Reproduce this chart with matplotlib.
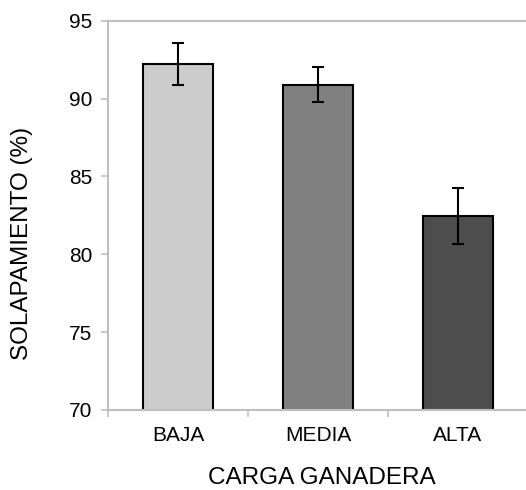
import matplotlib
matplotlib.use("Agg")
import matplotlib.pyplot as plt
import numpy as np

plt.rcParams['font.family'] = ['Liberation Sans', 'DejaVu Sans']

categorias = ['BAJA', 'MEDIA', 'ALTA']
solapamiento = [92.2, 90.9, 82.45]
error = [1.35, 1.15, 1.8]
colores = ['#cccccc', '#808080', '#4d4d4d']

fig = plt.figure(figsize=(5.26, 4.90), dpi=100)
ax = fig.add_axes([0.2053, 0.1633, 0.7985, 0.7945])

x = np.arange(len(categorias))
ax.bar(x, solapamiento, width=0.5, color=colores, edgecolor='black', linewidth=1.5,
       yerr=error, capsize=4.5, error_kw=dict(elinewidth=1.5, capthick=1.5, ecolor='black'),
       zorder=2)

ax.set_xlim(-0.5, 2.5)
ax.set_ylim(70, 95)
ax.set_yticks([70, 75, 80, 85, 90, 95])
ax.set_xticks(x)
ax.set_xticklabels(categorias)
ax.set_xticks([-0.5, 0.5, 1.5, 2.5], minor=True)
ax.tick_params(axis='x', which='major', length=0, pad=11.5, labelsize=15)
ax.tick_params(axis='x', which='minor', length=5, color='#bfbfbf', width=1.2)
ax.tick_params(axis='y', length=5, color='#bfbfbf', width=1.2, labelsize=15, pad=6.5)

for lado in ['left', 'bottom', 'top', 'right']:
    ax.spines[lado].set_color('#bfbfbf')
    ax.spines[lado].set_linewidth(1.5)

# titulos de los ejes
fig.text(22 / 526, 1 - 243 / 490, 'SOLAPAMIENTO (%)', rotation=90,
         ha='center', va='center', fontsize=17.5)
fig.text(322 / 526, 0.003, 'CARGA GANADERA', ha='center', va='bottom', fontsize=17.5)

fig.savefig('out.png', dpi=100)
